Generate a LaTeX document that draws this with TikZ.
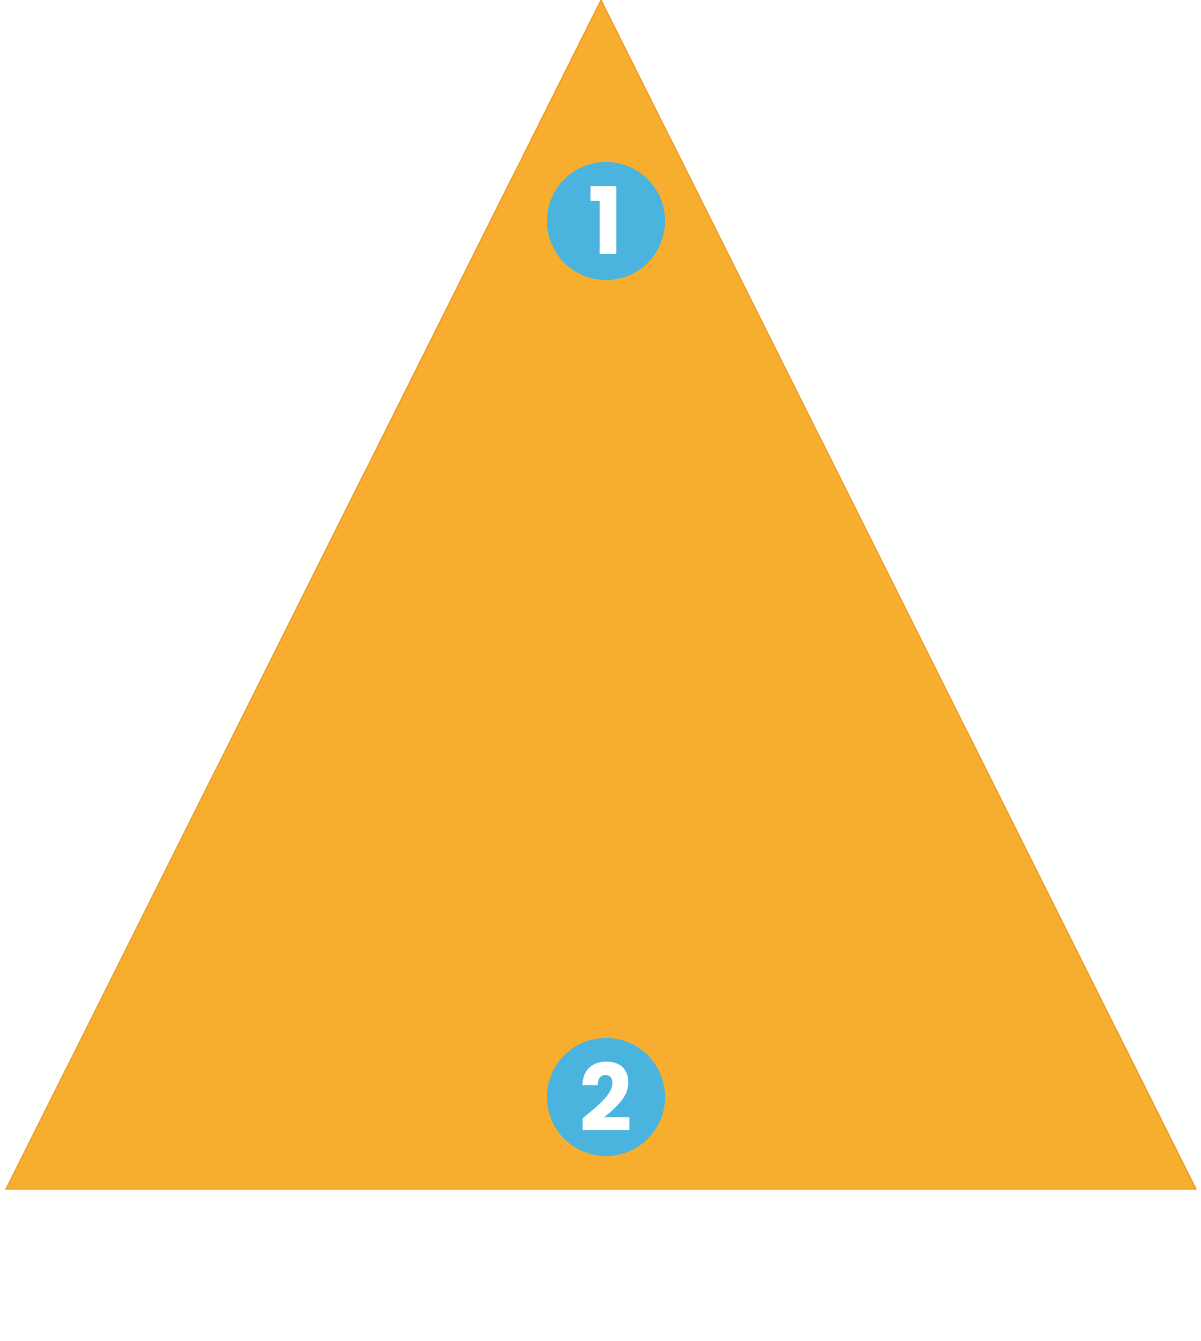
\documentclass[tikz,border=0pt]{standalone}
\usepackage{fontspec}
\setmainfont{Poppins}
\usepackage{tikz}
\usetikzlibrary{calc}
\definecolor{triorange}{HTML}{F7AE2E}
\definecolor{triedge}{HTML}{EE9A24}
\definecolor{numblue}{HTML}{4BB4DE}
\tikzset{
    numero/.style={circle, fill=numblue, minimum size=118pt, inner sep=0pt,
        text=white, font=\fontsize{93}{93}\selectfont\bfseries}
}

\begin{document}
\begin{tikzpicture}[x=1pt,y=-1pt]
            \useasboundingbox (0,0) rectangle (1200,1341);
            % Le triangle
            \coordinate (sommet) at (601,0);
            \coordinate (gauche) at (6,1189);
            \coordinate (droite) at (1196,1189);
            \filldraw[fill=triorange, draw=triedge, line width=1pt] (sommet) -- (droite) -- (gauche) -- cycle;
            % Les pastilles
            \node[numero] (un) at (606,221) {1};
            \node[numero] (deux) at (606,1097) {2};
        \end{tikzpicture}
\end{document}
